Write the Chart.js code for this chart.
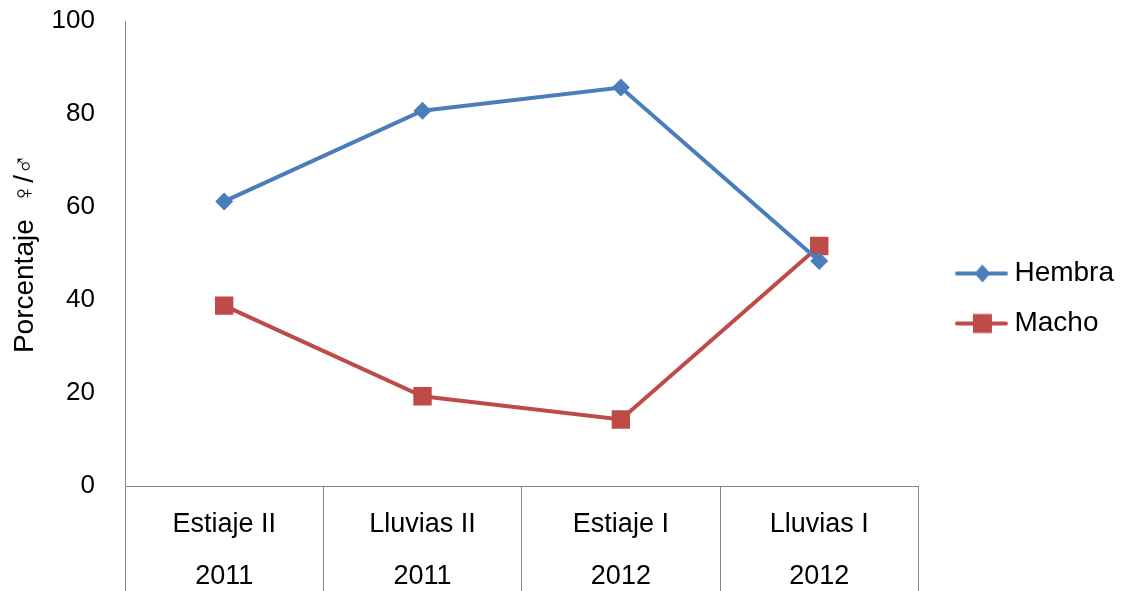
<!DOCTYPE html>
<html>
<head>
<meta charset="utf-8">
<script src="https://cdn.jsdelivr.net/npm/chart.js@4/dist/chart.umd.min.js"></script>
<style>
  body { margin: 0; background: #fff; }
  canvas { display: block; }
</style>
</head>
<body>
<canvas id="grafica" width="1124" height="591"></canvas>
<script>
// Datos
const temporadas = [["Estiaje II", "2011"], ["Lluvias II", "2011"], ["Estiaje I", "2012"], ["Lluvias I", "2012"]];
const hembras = [61.2, 80.7, 85.7, 48.4];
const machos = [38.8, 19.3, 14.3, 51.6];
const marcasY = [0, 20, 40, 60, 80, 100];

const azul = "#4A7EBB";
const rojo = "#BE4B48";
const gris = "#868686";
const fuente = "'Liberation Sans', Arial, sans-serif";

// Icono de leyenda: linea con marcador al centro
function iconoLeyenda(color, forma) {
  const c = document.createElement("canvas");
  c.width = 75;
  c.height = 24;
  const ctx = c.getContext("2d");
  ctx.strokeStyle = color;
  ctx.lineWidth = 4;
  ctx.lineCap = "round";
  ctx.beginPath();
  ctx.moveTo(24, 12);
  ctx.lineTo(73, 12);
  ctx.stroke();
  ctx.fillStyle = color;
  const cx = 49.5;
  if (forma === "rombo") {
    ctx.beginPath();
    ctx.moveTo(cx - 8, 12);
    ctx.lineTo(cx, 3);
    ctx.lineTo(cx + 8, 12);
    ctx.lineTo(cx, 21);
    ctx.closePath();
    ctx.fill();
  } else {
    ctx.fillRect(cx - 9.5, 2.5, 19, 19);
  }
  return c;
}

const iconos = [iconoLeyenda(azul, "rombo"), iconoLeyenda(rojo, "cuadro")];

new Chart(document.getElementById("grafica"), {
  type: "line",
  data: {
    labels: temporadas,
    datasets: [
      {
        label: "Hembra",
        data: hembras,
        borderColor: azul,
        backgroundColor: azul,
        borderWidth: 4,
        pointStyle: "rectRot",
        pointRadius: 9,
        pointBorderWidth: 0,
        tension: 0
      },
      {
        label: "Macho",
        data: machos,
        borderColor: rojo,
        backgroundColor: rojo,
        borderWidth: 4,
        pointStyle: "rect",
        pointRadius: 13,
        pointBorderWidth: 0,
        tension: 0
      }
    ]
  },
  options: {
    responsive: false,
    animation: false,
    devicePixelRatio: 1,
    layout: { padding: { top: 6, right: 0, bottom: 0, left: 0 } },
    plugins: {
      tooltip: { enabled: false },
      legend: {
        position: "right",
        maxWidth: 216,
        labels: {
          usePointStyle: true,
          pointStyleWidth: 60,
          padding: 22,
          color: "#000",
          font: { family: fuente, size: 28 },
          generateLabels: chart => {
            const items = Chart.defaults.plugins.legend.labels.generateLabels(chart);
            items.forEach((it, i) => { it.pointStyle = iconos[i]; });
            return items;
          }
        }
      }
    },
    scales: {
      x: {
        offset: true,
        afterFit: s => { s.height = 105; },
        grid: {
          offset: true,
          drawOnChartArea: false,
          drawTicks: true,
          tickLength: 105,
          color: gris,
          lineWidth: 1
        },
        border: { display: true, color: gris, width: 1 },
        ticks: {
          padding: -93,
          color: "#000",
          maxRotation: 0,
          autoSkip: false,
          font: { family: fuente, size: 27, lineHeight: 1.93 }
        }
      },
      y: {
        min: 0,
        max: 100,
        afterFit: s => {
          s.width = 125;
          s.paddingTop = 21;
          s.paddingBottom = 0;
        },
        afterBuildTicks: s => { s.ticks = marcasY.map(v => ({ value: v })); },
        grid: { drawOnChartArea: false, drawTicks: false },
        border: { display: true, color: gris, width: 1 },
        ticks: {
          padding: 30,
          color: "#000",
          font: { family: fuente, size: 26 }
        },
        title: {
          display: true,
          text: "Porcentaje  ♀/♂",
          color: "#000",
          padding: { top: 8, bottom: 0 },
          font: { family: fuente, size: 28 }
        }
      }
    }
  }
});
</script>
</body>
</html>
